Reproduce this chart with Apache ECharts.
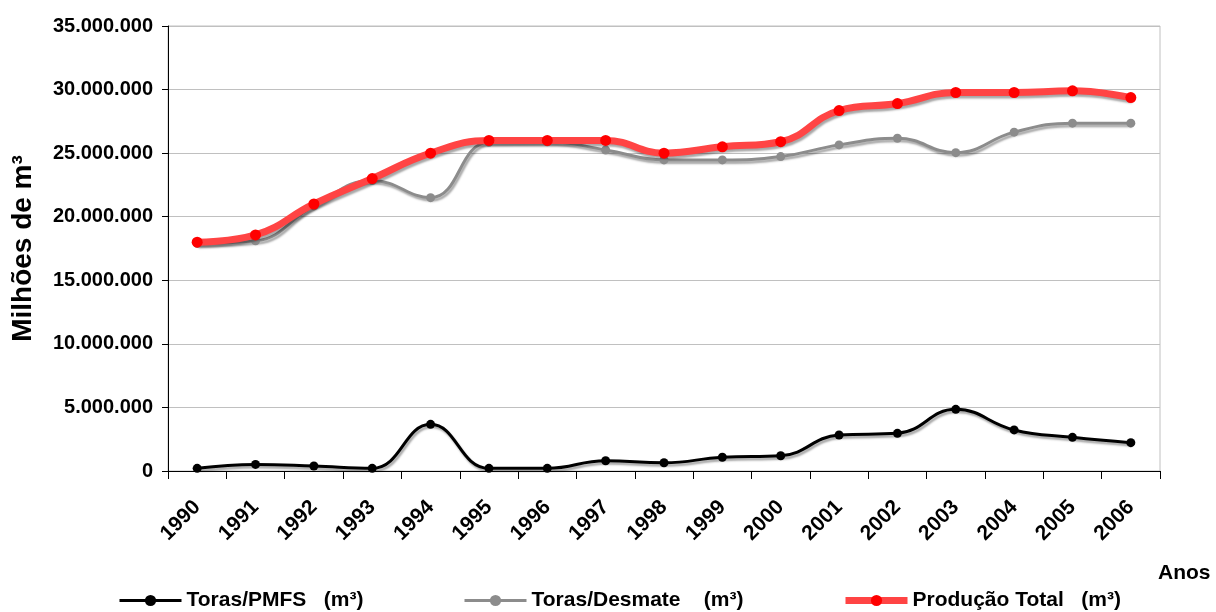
<!DOCTYPE html>
<html>
<head>
<meta charset="utf-8">
<script src="https://cdn.jsdelivr.net/npm/echarts@6/dist/echarts.min.js"></script>
<style>
html,body{margin:0;padding:0;background:#fff;}
#chart{width:1216px;height:612px;}
</style>
</head>
<body>
<div id="chart"></div>
<script>
var years = ['1990','1991','1992','1993','1994','1995','1996','1997','1998','1999','2000','2001','2002','2003','2004','2005','2006'];
var torasPMFS = [210000, 520000, 390000, 210000, 3670000, 210000, 210000, 810000, 650000, 1080000, 1200000, 2830000, 2960000, 4850000, 3230000, 2650000, 2230000];
var torasDesmate = [17900000, 18100000, 20850000, 22850000, 21500000, 25860000, 25900000, 25250000, 24470000, 24470000, 24730000, 25650000, 26170000, 25040000, 26650000, 27360000, 27360000];
var producaoTotal = [18000000, 18570000, 21000000, 23000000, 25000000, 26000000, 26000000, 26000000, 25000000, 25500000, 25900000, 28350000, 28900000, 29770000, 29770000, 29900000, 29370000];
var seriesNames = ['Toras/PMFS   (m\u00b3)', 'Toras/Desmate    (m\u00b3)', 'Produ\u00e7\u00e3o Total   (m\u00b3)'];

var FONT = 'Liberation Sans, Arial, sans-serif';
function fmt(v){ return String(v).replace(/\B(?=(\d{3})+(?!\d))/g, '.'); }
var shadow = {shadowColor:'rgba(0,0,0,0.35)', shadowBlur:2, shadowOffsetX:1.5, shadowOffsetY:2.5};

var chart = echarts.init(document.getElementById('chart'), null, {renderer:'canvas'});
function legendAt(left, name, lw){
  return {
    left:left, top:590, padding:0, itemWidth:62, itemHeight:14, itemGap:5,
    data:[name],
    lineStyle:{width:lw},
    textStyle:{fontFamily:FONT, fontSize:21, fontWeight:'bold', color:'#000'}
  };
}
chart.setOption({
  animation:false,
  backgroundColor:'#fff',
  grid:{left:168, right:56, top:26, bottom:141, outerBoundsMode:'none', containLabel:false,
        show:true, borderColor:'#c0c0c0', borderWidth:1},
  legend:[legendAt(118, seriesNames[0], 3), legendAt(463, seriesNames[1], 3), legendAt(842, seriesNames[2], 7)],
  xAxis:{
    type:'category', data:years, boundaryGap:true,
    name:'Anos', nameLocation:'end', nameGap:-2,
    nameTextStyle:{fontFamily:FONT, fontSize:21, fontWeight:'bold', color:'#000', align:'left', verticalAlign:'top', padding:[92,0,0,0]},
    axisLine:{lineStyle:{color:'#000', width:1}},
    axisTick:{show:true, alignWithLabel:false, length:8, lineStyle:{color:'#000'}},
    axisLabel:{rotate:45, margin:33, fontFamily:FONT, fontSize:21, fontWeight:'bold', color:'#000', interval:0},
    splitLine:{show:false}
  },
  yAxis:{
    type:'value', min:0, max:35000000, interval:5000000,
    name:'Milh\u00f5es de m\u00b3', nameLocation:'middle', nameGap:131,
    nameTextStyle:{fontFamily:FONT, fontSize:28, fontWeight:'bold', color:'#000'},
    axisLine:{show:true, lineStyle:{color:'#000', width:1}},
    axisTick:{show:true, length:6, lineStyle:{color:'#000'}},
    axisLabel:{formatter:fmt, margin:15, fontFamily:FONT, fontSize:20, fontWeight:'bold', color:'#000'},
    splitLine:{show:true, lineStyle:{color:'#c0c0c0', width:1}}
  },
  series:[
    {name:seriesNames[0], type:'line', data:torasPMFS, smooth:0.45, symbol:'circle', symbolSize:9,
     itemStyle:{color:'#000'}, lineStyle:Object.assign({color:'#000', width:3}, shadow), z:3},
    {name:seriesNames[1], type:'line', data:torasDesmate, smooth:0.45, symbol:'circle', symbolSize:9,
     itemStyle:{color:'#8c8c8c'}, lineStyle:Object.assign({color:'#8c8c8c', width:3}, shadow), z:4},
    {name:seriesNames[2], type:'line', data:producaoTotal, smooth:0.45, symbol:'circle', symbolSize:11,
     itemStyle:{color:'#ff0000'}, lineStyle:Object.assign({color:'#ff4444', width:7}, shadow), z:5}
  ]
});
</script>
</body>
</html>
